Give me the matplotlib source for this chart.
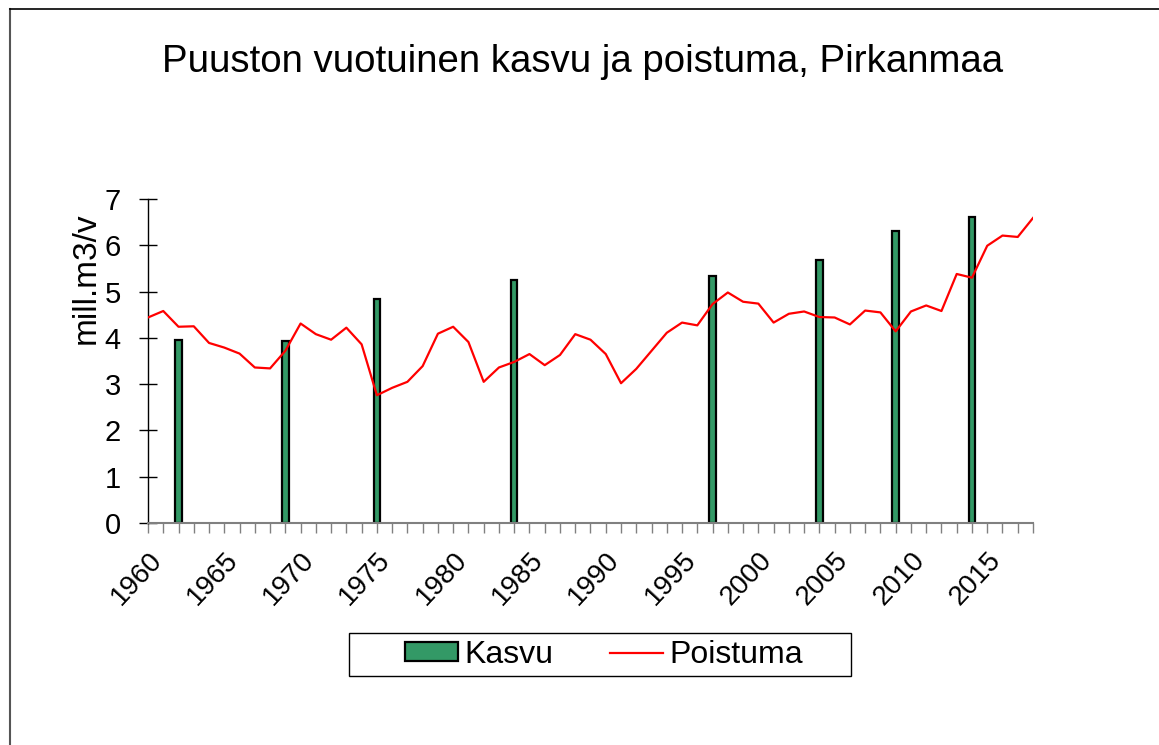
import numpy as np
import matplotlib.pyplot as plt
import matplotlib.transforms as mtransforms
from matplotlib.lines import Line2D
from matplotlib.patches import Patch, Rectangle

plt.rcParams['font.family'] = ['Liberation Sans', 'DejaVu Sans']

# Poistuma, every year 1960-2018
years = list(range(1960, 2019))
poistuma = [4.44, 4.58, 4.24, 4.25, 3.89, 3.79, 3.66, 3.36, 3.34, 3.72,
            4.31, 4.08, 3.96, 4.22, 3.86, 2.76, 2.92, 3.05, 3.39, 4.09,
            4.24, 3.91, 3.05, 3.36, 3.48, 3.65, 3.41, 3.63, 4.08, 3.96,
            3.65, 3.02, 3.33, 3.72, 4.11, 4.33, 4.27, 4.73, 4.98, 4.78,
            4.74, 4.33, 4.52, 4.57, 4.45, 4.44, 4.29, 4.59, 4.55, 4.14,
            4.57, 4.70, 4.58, 5.38, 5.30, 5.99, 6.21, 6.18, 6.59]

# Kasvu, only inventory years
kasvu_years = [1962, 1969, 1975, 1984, 1997, 2004, 2009, 2014]
kasvu = [3.95, 3.93, 4.84, 5.25, 5.34, 5.69, 6.31, 6.62]

W, H = 1159, 745
fig = plt.figure(figsize=(W/100, H/100), dpi=100)
ax = fig.add_axes([148/W, 1-523/H, (1033-148)/W, (523-199)/H])

ax.bar(kasvu_years, kasvu, width=0.42, color='#339966', edgecolor='black', linewidth=1.6, zorder=2)
ax.plot(years, poistuma, color='#FF0000', linewidth=1.6, zorder=3)

ax.set_xlim(1960, 2018)
ax.set_ylim(0, 7)
ax.set_yticks(range(0, 8))
ax.set_xticks(years)
ax.set_xticklabels([str(y) if y % 5 == 0 else '' for y in years], rotation=47,
                   ha='right', va='top', rotation_mode='anchor', fontsize=20)
shift = mtransforms.ScaledTranslation(-5/100, -2/100, fig.dpi_scale_trans)
for lbl in ax.get_xticklabels():
    lbl.set_transform(lbl.get_transform() + shift)
ax.tick_params(axis='y', direction='inout', length=13, width=1, labelsize=21, pad=13)
ax.tick_params(axis='x', direction='out', length=7, width=1, color='#808080', pad=10)
for s in ['top', 'right']:
    ax.spines[s].set_visible(False)
ax.spines['bottom'].set_color('#808080')
ax.spines['bottom'].set_linewidth(1.5)
ax.spines['left'].set_linewidth(1)
ax.set_ylabel('mill.m3/v', fontsize=24)
ax.yaxis.set_label_coords(-0.052, 0.756)

fig.text(583/W, 1-62/H, 'Puuston vuotuinen kasvu ja poistuma, Pirkanmaa',
         fontsize=27.6, ha='center', va='center')

# legend frame drawn separately (wide and flat like the original)
fig.add_artist(Rectangle((349/W, 1-676/H), (851-349)/W, (676-633)/H, transform=fig.transFigure,
                         facecolor='white', edgecolor='black', linewidth=1, zorder=4))
handles = [Patch(facecolor='#339966', edgecolor='black', linewidth=1.6, label='Kasvu'),
           Line2D([0], [0], color='#FF0000', linewidth=1.6, label='Poistuma')]
leg = fig.legend(handles=handles, loc='center', bbox_to_anchor=(604/W, 1-655/H),
                 ncol=2, fontsize=23, frameon=False, handlelength=1.65, handleheight=0.55,
                 handletextpad=0.2, columnspacing=1.8, borderpad=0, borderaxespad=0)
leg.set_zorder(5)

# outer chart frame (top and left edges visible)
fig.add_artist(Line2D([10/W, 10/W], [0, 1-9/H], color='#555555', linewidth=1.5))
fig.add_artist(Line2D([10/W, 1], [1-9/H, 1-9/H], color='black', linewidth=1.2))

fig.savefig('out.png', dpi=100)
